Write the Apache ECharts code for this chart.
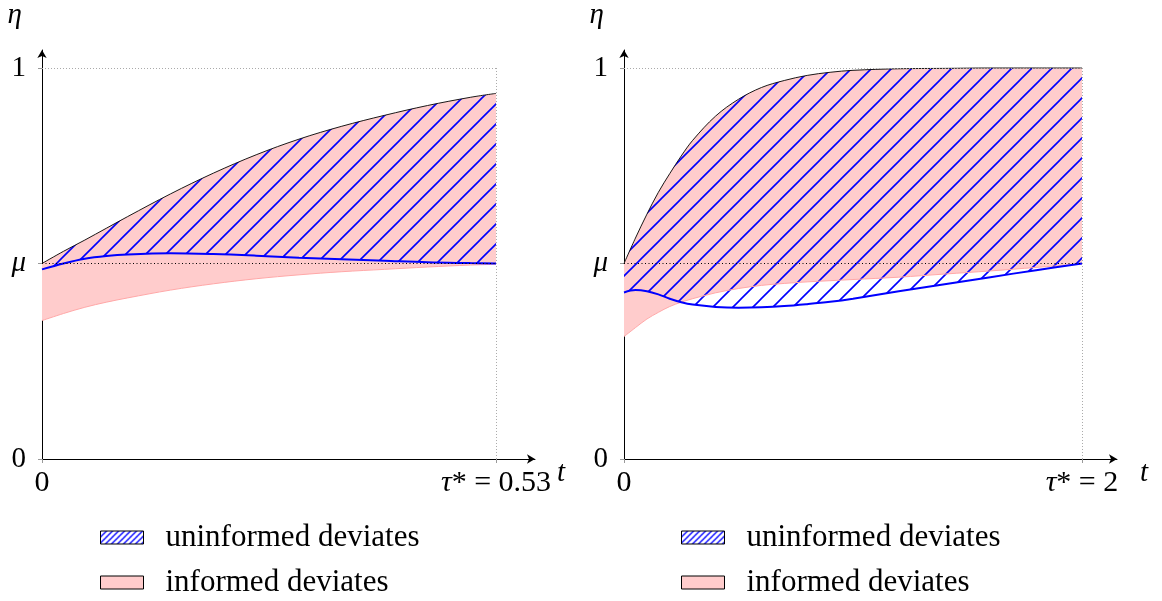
<!DOCTYPE html>
<html>
<head>
<meta charset="utf-8">
<script src="https://cdn.jsdelivr.net/npm/echarts@6/dist/echarts.min.js"></script>
<style>
html, body { margin: 0; padding: 0; background: #fff; }
#chart { width: 1162px; height: 601px; }
</style>
</head>
<body>
<div id="chart"></div>
<script>
// left panel, tau* = 0.53
const tLeft = [0, 0.025, 0.05, 0.075, 0.1, 0.15, 0.2, 0.25, 0.3, 0.35, 0.4, 0.45, 0.5, 0.53];
const upperLeft = [0.5, 0.531, 0.56, 0.59, 0.62, 0.678, 0.731, 0.778, 0.818, 0.851, 0.879, 0.904, 0.925, 0.935];
const blueLeft = [0.485, 0.5, 0.512, 0.519, 0.523, 0.526, 0.524, 0.52, 0.515, 0.511, 0.507, 0.503, 0.501, 0.5];
const pinkLeft = [0.354, 0.372, 0.388, 0.401, 0.412, 0.432, 0.448, 0.461, 0.471, 0.479, 0.485, 0.491, 0.496, 0.498];

// right panel, tau* = 2
const tRight = [0, 0.05, 0.1, 0.15, 0.2, 0.25, 0.3, 0.4, 0.5, 0.6, 0.7, 0.8, 0.9, 1.0, 1.2, 1.4, 1.6, 1.8, 2.0];
const upperRight = [0.5, 0.565, 0.626, 0.682, 0.73, 0.775, 0.815, 0.877, 0.92, 0.95, 0.968, 0.981, 0.989, 0.994, 0.998, 0.999, 1.0, 1.0, 1.0];
const blueRight = [0.426, 0.432, 0.429, 0.421, 0.41, 0.401, 0.395, 0.389, 0.387, 0.388, 0.391, 0.396, 0.402, 0.41, 0.429, 0.447, 0.465, 0.483, 0.5];
const pinkRight = [0.313, 0.336, 0.358, 0.375, 0.39, 0.401, 0.41, 0.425, 0.436, 0.444, 0.449, 0.453, 0.456, 0.459, 0.465, 0.473, 0.481, 0.49, 0.499];

// ticks
const mu = 0.5;
const yTickValues = [0, 0.5, 1];
const yTickLabels = ['0', '{i|μ}', '1'];
const xTickValuesLeft = [0, 0.53];
const xTickLabelsLeft = ['0', '{i|τ}* = 0.53'];
const xTickValuesRight = [0, 2];
const xTickLabelsRight = ['0', '{i|τ}* = 2'];
const legendNames = ['uninformed deviates', 'informed deviates'];

const FONT = '"Liberation Serif", "DejaVu Serif", serif';
const pinkFill = '#ffcccc';
const pinkLine = '#ffa8a8';
const blue = '#0000ff';

// hatch pattern: "/" lines
function makeHatch(size, lw, bg) {
  const c = document.createElement('canvas');
  c.width = size;
  c.height = size;
  const ctx = c.getContext('2d');
  if (bg) {
    ctx.fillStyle = bg;
    ctx.fillRect(0, 0, size, size);
  }
  ctx.strokeStyle = blue;
  ctx.lineWidth = lw;
  ctx.beginPath();
  [-size, 0, size].forEach(k => {
    ctx.moveTo(-2, size + k + 2);
    ctx.lineTo(size + k + 2, -2);
  });
  ctx.stroke();
  return c;
}
const hatchArea = { image: makeHatch(20, 1.6, null), repeat: 'repeat' };
const hatchLegend = { image: makeHatch(6, 1.3, '#fff'), repeat: 'repeat' };

function pickLabel(values, labels) {
  return v => {
    const i = values.findIndex(x => Math.abs(x - v) < 1e-9);
    return i < 0 ? '' : labels[i];
  };
}

function makeXAxis(idx, max, values, labels, nameGap) {
  return {
    gridIndex: idx,
    type: 'value',
    min: 0,
    max: max,
    name: 't',
    nameLocation: 'end',
    nameGap: nameGap,
    nameMoveOverlap: false,
    nameTextStyle: { fontFamily: FONT, fontSize: 29, fontStyle: 'italic', color: '#000', verticalAlign: 'top' },
    axisLine: { show: true, symbol: ['none', 'arrow'], symbolSize: [7, 8], lineStyle: { color: '#000', width: 1 } },
    axisTick: { show: true, customValues: values, length: 4, lineStyle: { color: '#999' } },
    axisLabel: {
      customValues: values,
      formatter: pickLabel(values, labels),
      margin: 9,
      color: '#000',
      fontFamily: FONT,
      fontSize: 30,
      rich: { i: { fontFamily: FONT, fontSize: 30, fontStyle: 'italic', color: '#000' } }
    },
    splitLine: { show: false }
  };
}

function makeYAxis(idx) {
  return {
    gridIndex: idx,
    type: 'value',
    min: 0,
    max: 1.046,
    name: 'η',
    nameLocation: 'end',
    nameGap: 20,
    nameMoveOverlap: false,
    nameTextStyle: { fontFamily: FONT, fontSize: 29, fontStyle: 'italic', color: '#000', align: 'right', padding: [0, 20, 0, 0] },
    axisLine: { show: true, symbol: ['none', 'arrow'], symbolSize: [7, 8], lineStyle: { color: '#000', width: 1 } },
    axisTick: { show: true, customValues: yTickValues, length: 4, lineStyle: { color: '#999' } },
    axisLabel: {
      customValues: yTickValues,
      formatter: pickLabel(yTickValues, yTickLabels),
      margin: 16,
      color: '#000',
      fontFamily: FONT,
      fontSize: 29,
      rich: { i: { fontFamily: FONT, fontSize: 29, fontStyle: 'italic', color: '#000' } }
    },
    splitLine: { show: false }
  };
}

// data stored as [eta, t] so that stacking happens on eta
function panelSeries(idx, t, upper, blueV, pink, tau) {
  const pairs = v => t.map((x, i) => [v[i], x]);
  const diff = (a, b) => t.map((x, i) => [a[i] - b[i], x]);
  const common = {
    type: 'line', xAxisIndex: idx, yAxisIndex: idx,
    encode: { x: 1, y: 0 },
    symbol: 'none', showSymbol: false,
    smooth: 0.35,
    silent: true
  };
  const hidden = { opacity: 0 };
  return [
    { ...common, stack: 'p' + idx, data: pairs(pink), lineStyle: hidden },
    { ...common, name: legendNames[1], stack: 'p' + idx, data: diff(upper, pink), lineStyle: hidden, areaStyle: { color: pinkFill, opacity: 1 } },
    { ...common, data: pairs(pink), lineStyle: { color: pinkLine, width: 1 } },
    { ...common, stack: 'h' + idx, data: pairs(blueV), lineStyle: hidden },
    { ...common, name: legendNames[0], stack: 'h' + idx, data: diff(upper, blueV), lineStyle: hidden, areaStyle: { color: hatchArea, opacity: 1 } },
    { ...common, data: pairs(blueV), lineStyle: { color: blue, width: 2 } },
    {
      ...common,
      data: pairs(upper),
      lineStyle: { color: '#000', width: 0.9 },
      markLine: {
        silent: true,
        symbol: 'none',
        label: { show: false },
        data: [
          [{ coord: [0, 1], lineStyle: { color: '#aaa', type: [1, 2], width: 1 } }, { coord: [tau, 1] }],
          [{ coord: [tau, 1], lineStyle: { color: '#aaa', type: [1, 2], width: 1 } }, { coord: [tau, 0] }],
          [{ coord: [0, mu], lineStyle: { color: '#000', type: [1, 2.5], width: 1 } }, { coord: [tau, mu] }]
        ]
      }
    }
  ];
}

function makeLegend(left) {
  return {
    left: left,
    top: 522,
    orient: 'vertical',
    padding: 0,
    itemWidth: 43,
    itemHeight: 13,
    itemGap: 14,
    icon: 'rect',
    selectedMode: false,
    textStyle: { fontFamily: FONT, fontSize: 31, lineHeight: 31, color: '#000', padding: [0, 0, 0, 17] },
    data: [
      { name: legendNames[0], itemStyle: { color: hatchLegend, borderColor: '#000', borderWidth: 1 } },
      { name: legendNames[1], itemStyle: { color: pinkFill, borderColor: '#000', borderWidth: 1 } }
    ]
  };
}

const chart = echarts.init(document.getElementById('chart'));
chart.setOption({
  animation: false,
  backgroundColor: '#fff',
  grid: [
    { left: 42, top: 50, width: 493, height: 409, outerBoundsMode: 'none' },
    { left: 624, top: 50, width: 493, height: 409, outerBoundsMode: 'none' }
  ],
  xAxis: [
    makeXAxis(0, 0.5755, xTickValuesLeft, xTickLabelsLeft, 22),
    makeXAxis(1, 2.153, xTickValuesRight, xTickLabelsRight, 23)
  ],
  yAxis: [makeYAxis(0), makeYAxis(1)],
  legend: [makeLegend(100), makeLegend(681)],
  series: [
    ...panelSeries(0, tLeft, upperLeft, blueLeft, pinkLeft, 0.53),
    ...panelSeries(1, tRight, upperRight, blueRight, pinkRight, 2)
  ]
});
</script>
</body>
</html>
